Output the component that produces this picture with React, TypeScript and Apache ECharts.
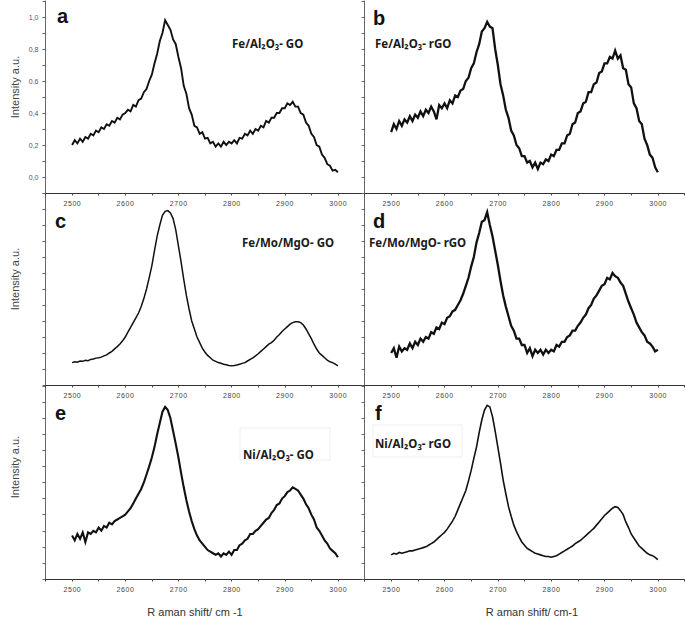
import React, { useEffect, useRef } from "react";
import * as echarts from "echarts";

const wavenumbers = [
  2500, 2505, 2510, 2515, 2520, 2525, 2530, 2535, 2540, 2545,
  2550, 2555, 2560, 2565, 2570, 2575, 2580, 2585, 2590, 2595,
  2600, 2605, 2610, 2615, 2620, 2625, 2630, 2635, 2640, 2645,
  2650, 2655, 2660, 2665, 2670, 2675, 2680, 2685, 2690, 2695,
  2700, 2705, 2710, 2715, 2720, 2725, 2730, 2735, 2740, 2745,
  2750, 2755, 2760, 2765, 2770, 2775, 2780, 2785, 2790, 2795,
  2800, 2805, 2810, 2815, 2820, 2825, 2830, 2835, 2840, 2845,
  2850, 2855, 2860, 2865, 2870, 2875, 2880, 2885, 2890, 2895,
  2900, 2905, 2910, 2915, 2920, 2925, 2930, 2935, 2940, 2945,
  2950, 2955, 2960, 2965, 2970, 2975, 2980, 2985, 2990, 2995, 3000,
];

const feAl2O3GO = [
  0.20, 0.23, 0.21, 0.24, 0.22, 0.25, 0.24, 0.27, 0.26, 0.29,
  0.28, 0.31, 0.30, 0.33, 0.32, 0.35, 0.34, 0.37, 0.36, 0.39,
  0.40, 0.42, 0.41, 0.45, 0.44, 0.48, 0.49, 0.53, 0.55, 0.60,
  0.64, 0.71, 0.77, 0.85, 0.90, 0.98, 0.95, 0.92, 0.86, 0.83,
  0.75, 0.68, 0.57, 0.52, 0.43, 0.39, 0.32, 0.31, 0.27, 0.28,
  0.24, 0.245, 0.21, 0.22, 0.19, 0.21, 0.19, 0.22, 0.20, 0.22,
  0.21, 0.23, 0.21, 0.245, 0.24, 0.27, 0.26, 0.29, 0.27, 0.30,
  0.29, 0.32, 0.31, 0.35, 0.34, 0.37, 0.37, 0.40, 0.40, 0.43,
  0.43, 0.46, 0.45, 0.47, 0.44, 0.44, 0.40, 0.39, 0.34, 0.32,
  0.27, 0.25, 0.20, 0.19, 0.14, 0.12, 0.08, 0.07, 0.04, 0.045, 0.03,
];

const feAl2O3rGO = [
  0.28, 0.33, 0.30, 0.35, 0.32, 0.36, 0.34, 0.38, 0.35, 0.39,
  0.37, 0.41, 0.38, 0.42, 0.40, 0.44, 0.41, 0.36, 0.45, 0.43,
  0.46, 0.43, 0.48, 0.46, 0.51, 0.50, 0.54, 0.55, 0.60, 0.62,
  0.68, 0.71, 0.78, 0.83, 0.91, 0.93, 0.97, 0.94, 0.93, 0.80,
  0.70, 0.58, 0.51, 0.42, 0.37, 0.29, 0.26, 0.20, 0.18, 0.13,
  0.13, 0.09, 0.10, 0.06, 0.09, 0.05, 0.09, 0.08, 0.11, 0.10,
  0.14, 0.13, 0.17, 0.17, 0.21, 0.21, 0.26, 0.27, 0.33, 0.34,
  0.40, 0.41, 0.46, 0.47, 0.53, 0.53, 0.58, 0.59, 0.65, 0.66,
  0.71, 0.71, 0.75, 0.74, 0.79, 0.74, 0.76, 0.68, 0.67, 0.58,
  0.56, 0.46, 0.43, 0.35, 0.33, 0.24, 0.20, 0.14, 0.12, 0.06, 0.03,
];

const feMoMgOGO = [
  0.04, 0.045, 0.042, 0.05, 0.048, 0.055, 0.052, 0.06, 0.062, 0.068,
  0.07, 0.074, 0.082, 0.088, 0.10, 0.11, 0.126, 0.14, 0.156, 0.176,
  0.20, 0.23, 0.26, 0.29, 0.32, 0.35, 0.39, 0.44, 0.50, 0.57,
  0.645, 0.74, 0.83, 0.90, 0.96, 0.985, 0.99, 0.975, 0.94, 0.87,
  0.77, 0.67, 0.56, 0.46, 0.375, 0.30, 0.25, 0.20, 0.165, 0.13,
  0.105, 0.085, 0.07, 0.055, 0.048, 0.04, 0.036, 0.03, 0.026, 0.022,
  0.02, 0.022, 0.025, 0.03, 0.035, 0.04, 0.05, 0.06, 0.07, 0.082,
  0.095, 0.11, 0.125, 0.14, 0.155, 0.165, 0.18, 0.20, 0.215, 0.235,
  0.25, 0.265, 0.28, 0.29, 0.295, 0.295, 0.29, 0.275, 0.25, 0.22,
  0.19, 0.155, 0.125, 0.10, 0.085, 0.07, 0.055, 0.045, 0.04, 0.03, 0.02,
];

const feMoMgOrGO = [
  0.10, 0.13, 0.07, 0.14, 0.11, 0.13, 0.12, 0.16, 0.13, 0.17,
  0.15, 0.19, 0.17, 0.20, 0.19, 0.23, 0.22, 0.26, 0.25, 0.29,
  0.28, 0.32, 0.33, 0.36, 0.37, 0.40, 0.43, 0.47, 0.52, 0.57,
  0.64, 0.70, 0.79, 0.85, 0.92, 0.93, 0.98, 0.90, 0.83, 0.74,
  0.65, 0.55, 0.46, 0.39, 0.33, 0.27, 0.24, 0.19, 0.19, 0.15,
  0.15, 0.10, 0.13, 0.08, 0.12, 0.10, 0.12, 0.09, 0.12, 0.10,
  0.12, 0.11, 0.15, 0.14, 0.17, 0.17, 0.20, 0.21, 0.24, 0.24,
  0.27, 0.29, 0.32, 0.34, 0.38, 0.40, 0.44, 0.46, 0.49, 0.52,
  0.53, 0.57, 0.56, 0.60, 0.58, 0.57, 0.54, 0.52, 0.47, 0.42,
  0.38, 0.34, 0.29, 0.26, 0.23, 0.21, 0.17, 0.16, 0.14, 0.11, 0.12,
];

const niAl2O3GO = [
  0.17, 0.14, 0.18, 0.15, 0.19, 0.13, 0.19, 0.18, 0.20, 0.19,
  0.22, 0.20, 0.23, 0.22, 0.25, 0.24, 0.26, 0.27, 0.28, 0.29,
  0.30, 0.32, 0.34, 0.37, 0.40, 0.43, 0.46, 0.50, 0.55, 0.60,
  0.655, 0.72, 0.80, 0.87, 0.94, 0.97, 0.95, 0.90, 0.82, 0.74,
  0.655, 0.56, 0.47, 0.39, 0.32, 0.26, 0.21, 0.17, 0.14, 0.12,
  0.10, 0.08, 0.07, 0.06, 0.05, 0.06, 0.04, 0.06, 0.05, 0.07,
  0.05, 0.08, 0.08, 0.11, 0.12, 0.14, 0.15, 0.18, 0.18, 0.20,
  0.21, 0.23, 0.25, 0.27, 0.28, 0.31, 0.33, 0.36, 0.37, 0.40,
  0.415, 0.44, 0.45, 0.47, 0.46, 0.45, 0.425, 0.40, 0.365, 0.34,
  0.30, 0.27, 0.22, 0.20, 0.17, 0.14, 0.12, 0.09, 0.075, 0.06, 0.035,
];

const niAl2O3rGO = [
  0.05, 0.06, 0.055, 0.065, 0.06, 0.065, 0.07, 0.075, 0.075, 0.08,
  0.085, 0.09, 0.095, 0.10, 0.11, 0.12, 0.13, 0.145, 0.16, 0.175,
  0.19, 0.21, 0.235, 0.26, 0.29, 0.33, 0.37, 0.41, 0.45, 0.51,
  0.575, 0.65, 0.72, 0.81, 0.89, 0.95, 0.98, 0.97, 0.91, 0.82,
  0.72, 0.62, 0.515, 0.43, 0.35, 0.29, 0.235, 0.195, 0.16, 0.13,
  0.11, 0.09, 0.08, 0.07, 0.06, 0.055, 0.05, 0.045, 0.04, 0.04,
  0.035, 0.04, 0.045, 0.055, 0.065, 0.075, 0.085, 0.095, 0.105, 0.12,
  0.13, 0.14, 0.155, 0.17, 0.185, 0.20, 0.215, 0.235, 0.255, 0.275,
  0.295, 0.31, 0.325, 0.34, 0.35, 0.345, 0.325, 0.30, 0.255, 0.22,
  0.18, 0.155, 0.13, 0.105, 0.09, 0.075, 0.06, 0.05, 0.045, 0.035, 0.02,
];

const panelSeries = [feAl2O3GO, feAl2O3rGO, feMoMgOGO, feMoMgOrGO, niAl2O3GO, niAl2O3rGO];
const panelLetters = ["a", "b", "c", "d", "e", "f"];
const panelTitles = [
  "Fe/Al₂O₃- GO",
  "Fe/Al₂O₃- rGO",
  "Fe/Mo/MgO- GO",
  "Fe/Mo/MgO- rGO",
  "Ni/Al₂O₃- GO",
  "Ni/Al₂O₃- rGO",
];
const xTickLabels = [2500, 2600, 2700, 2800, 2900, 3000];
const yTickLabels = ["0,0", "0,2", "0,4", "0,6", "0,8", "1,0"];
const yAxisTitle = "Intensity a.u.";
const xAxisTitles = ["R aman shift/ cm -1", "R aman shift/ cm-1"];

const grids = [
  { left: 45.5, top: 1, width: 319, height: 192 },
  { left: 364.5, top: 1, width: 320, height: 192 },
  { left: 45.5, top: 193, width: 319, height: 192 },
  { left: 364.5, top: 193, width: 320, height: 192 },
  { left: 45.5, top: 386, width: 319, height: 193 },
  { left: 364.5, top: 386, width: 320, height: 193 },
];

const lineWidths = [1.9, 2.3, 1.5, 2.3, 2.1, 1.6];

const letterPos = [
  [57, 16], [373, 18], [55, 221], [373, 221], [55, 413], [375, 413],
];
const titlePos = [
  [232, 43], [375, 43], [242, 242], [369, 242], [243, 454], [375, 443],
];

export default function App() {
  const ref = useRef<HTMLDivElement>(null);
  useEffect(() => {
    if (!ref.current) return;
    const chart = echarts.init(ref.current, undefined, { renderer: "svg" });
    const font = "Arial, 'Liberation Sans', sans-serif";
    const option: any = {
      animation: false,
      backgroundColor: "#ffffff",
      grid: grids.map((g) => ({ ...g, containLabel: false, outerBoundsMode: "none" })),
      xAxis: grids.map((_, i) => ({
        gridIndex: i,
        type: "value",
        min: 2450,
        max: 3050,
        interval: 50,
        axisLine: { show: true, onZero: false, lineStyle: { color: "#333", width: 1 } },
        axisTick: { show: true, inside: false, length: 2.5, lineStyle: { color: "#444" } },
        axisLabel: {
          show: true,
          margin: 7,
          fontSize: 7,
          color: "#444",
          fontFamily: font,
          formatter: (v: number) =>
            xTickLabels.indexOf(Math.round(v)) >= 0 ? String(Math.round(v)).split("").join("\u200a") : "",
        },
        splitLine: { show: false },
      })),
      yAxis: grids.map((_, i) => ({
        gridIndex: i,
        type: "value",
        min: -0.1,
        max: 1.1,
        interval: 0.1,
        axisLine: { show: true, onZero: false, lineStyle: { color: "#666", width: 1 } },
        axisTick: { show: true, inside: false, length: 3, lineStyle: { color: "#666" } },
        axisLabel: {
          show: i === 0,
          margin: 7,
          fontSize: 7,
          color: "#555",
          fontFamily: font,
          formatter: (v: number) => {
            const r = Math.round(v * 10);
            if (r < 0 || r > 10 || r % 2 !== 0) return "";
            return yTickLabels[r / 2];
          },
        },
        splitLine: { show: false },
      })),
      series: panelSeries.map((vals, i) => ({
        type: "line",
        xAxisIndex: i,
        yAxisIndex: i,
        showSymbol: false,
        symbol: "none",
        data: wavenumbers.map((w, k) => [w, vals[k]]),
        lineStyle: { color: "#111", width: lineWidths[i], join: "miter" },
        z: 3,
      })),
      graphic: [
        { type: "rect", shape: { x: 240, y: 428, width: 90, height: 32 }, style: { fill: "none", stroke: "#efefef", lineWidth: 1 }, silent: true },
        { type: "rect", shape: { x: 373, y: 425, width: 89, height: 32 }, style: { fill: "none", stroke: "#efefef", lineWidth: 1 }, silent: true },
        ...panelLetters.map((t, i) => ({
          type: "text",
          x: letterPos[i][0],
          y: letterPos[i][1],
          style: {
            text: t,
            font: `bold 20px ${font}`,
            fill: "#111",
            textAlign: "left",
            textVerticalAlign: "middle",
          },
          z: 10,
        })),
        ...panelTitles.map((t, i) => ({
          type: "text",
          x: titlePos[i][0],
          y: titlePos[i][1],
          style: {
            text: t,
            font: `bold 11.5px 'Noto Sans', 'Open Sans', sans-serif`,
            fill: "#1a1a1a",
            textAlign: "left",
            textVerticalAlign: "middle",
          },
          z: 10,
        })),
        ...[87, 279, 467].map((cy) => ({
          type: "text",
          x: 15,
          y: cy,
          rotation: Math.PI / 2,
          style: {
            text: yAxisTitle,
            font: `11px ${font}`,
            fill: "#444",
            textAlign: "center",
            textVerticalAlign: "middle",
          },
        })),
        ...[[195, 612], [532, 612]].map((p, i) => ({
          type: "text",
          x: p[0],
          y: p[1],
          style: {
            text: xAxisTitles[i],
            font: `11px ${font}`,
            fill: "#333",
            textAlign: "center",
            textVerticalAlign: "middle",
          },
        })),
      ],
    };
    chart.setOption(option);
    return () => chart.dispose();
  }, []);
  return <div ref={ref} style={{ width: 685, height: 621, position: "absolute", left: 0, top: 0 }} />;
}
